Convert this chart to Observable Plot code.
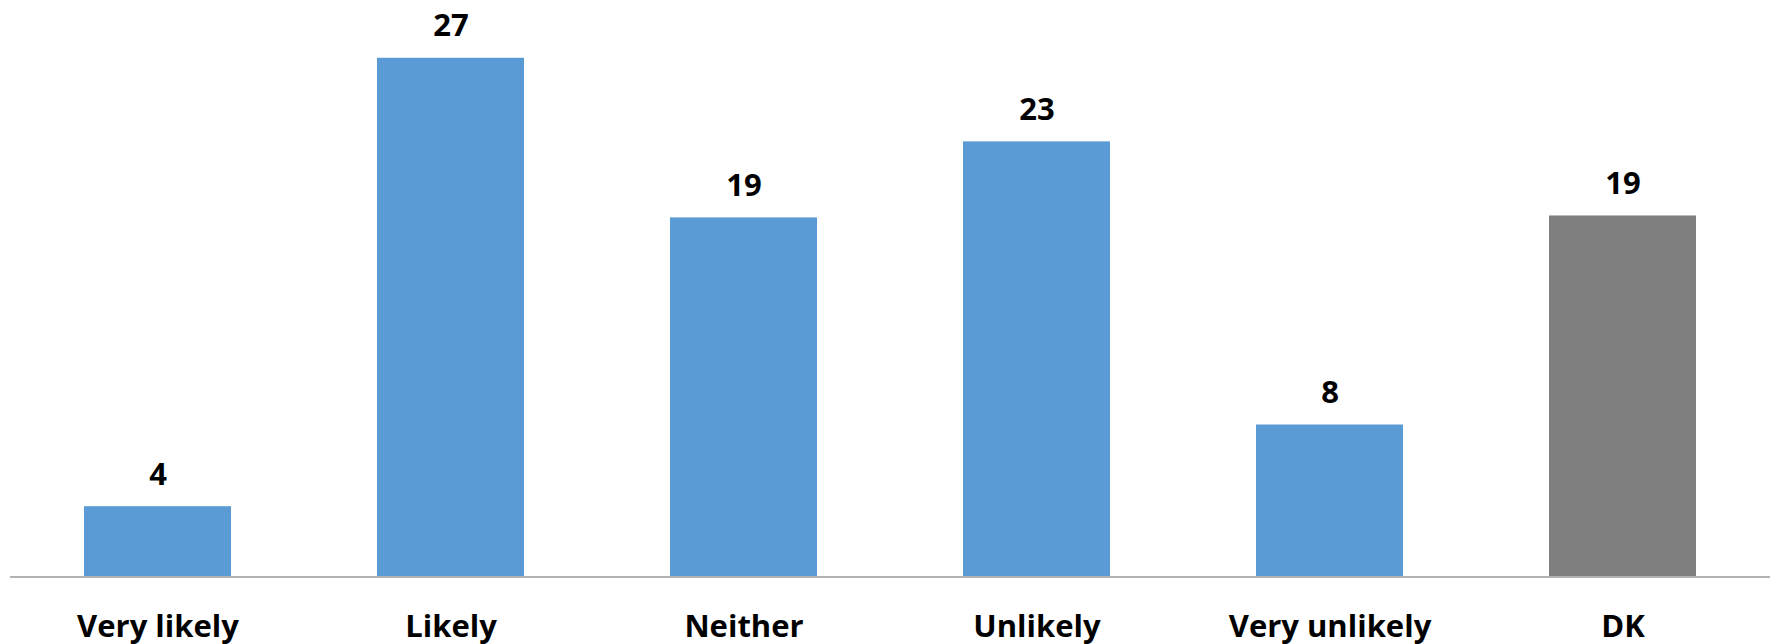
<!DOCTYPE html>
<html>
<head>
<meta charset="utf-8">
<script src="https://cdn.jsdelivr.net/npm/d3@7"></script>
<script src="https://cdn.jsdelivr.net/npm/@observablehq/plot@0.6"></script>
<style>
  html, body { margin: 0; padding: 0; background: #ffffff; }
  #chart svg { display: block; }
</style>
</head>
<body>
<div id="chart"></div>
<script>
const categories = ["Very likely", "Likely", "Neither", "Unlikely", "Very unlikely", "DK"];
const values = [3.7, 27.3, 18.9, 22.9, 8.0, 19.0];
const valueLabels = ["4", "27", "19", "23", "8", "19"];
const barColors = ["#5b9bd5", "#5b9bd5", "#5b9bd5", "#5b9bd5", "#5b9bd5", "#7f7f7f"];

const data = categories.map((c, i) => ({category: c, value: values[i], label: valueLabels[i], color: barColors[i]}));

const font = "'Open Sans', 'Liberation Sans', sans-serif";

const chart = Plot.plot({
  width: 1777,
  height: 644,
  marginTop: 0,
  marginBottom: 67.5,
  marginLeft: 10,
  marginRight: 7,
  style: {fontFamily: font, background: "#ffffff"},
  x: {domain: categories, paddingInner: 0.5, paddingOuter: 0.25, axis: null},
  y: {domain: [0, 30.34], axis: null},
  marks: [
    Plot.barY(data, {x: "category", y: "value", fill: "color"}),
    Plot.ruleY([0], {stroke: "#b3b3b3", strokeWidth: 2}),
    Plot.text(data, {x: "category", y: "value", text: "label", lineAnchor: "bottom", dy: -22,
      fontSize: 31, fontWeight: "bold", fill: "#000000"}),
    Plot.text(data, {x: "category", y: () => 0, text: "category", lineAnchor: "bottom", dy: 59.5,
      fontSize: 31, fontWeight: "bold", fill: "#000000"})
  ]
});
document.getElementById("chart").appendChild(chart);
</script>
</body>
</html>
